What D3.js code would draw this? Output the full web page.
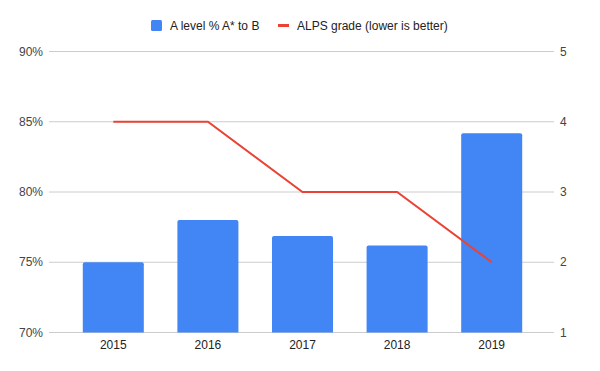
<!DOCTYPE html>
<html>
<head>
<meta charset="utf-8">
<script src="https://cdn.jsdelivr.net/npm/d3@7"></script>
<style>
  body { margin: 0; background: #fff; }
  text { font-family: "Liberation Sans", Arial, sans-serif; }
</style>
</head>
<body>
<svg id="chart" width="600" height="371"></svg>
<script>
var years = ['2015', '2016', '2017', '2018', '2019'];
var aLevel = [75.0, 78.0, 76.87, 76.2, 84.18];   // % A* to B
var alps = [4, 4, 3, 3, 2];                      // ALPS grade
var leftTicks = [70, 75, 80, 85, 90];
var rightTicks = [1, 2, 3, 4, 5];

var colorBar = '#4285f4';
var colorLine = '#ea4335';
var colorGrid = '#cccccc';
var colorText = '#444';

var w = 600, h = 371;
var svg = d3.select('#chart');

var x = d3.scaleBand()
  .domain(years)
  .range([66, 539])
  .paddingInner(0.355)
  .paddingOuter(0.1775);

var yLeft = d3.scaleLinear().domain([70, 90]).range([332.5, 51.5]);
var yRight = d3.scaleLinear().domain([1, 5]).range([332.5, 51.5]);

// gridlines
svg.append('g')
  .selectAll('line')
  .data(leftTicks)
  .join('line')
  .attr('x1', 49).attr('x2', 554)
  .attr('y1', d => yLeft(d)).attr('y2', d => yLeft(d))
  .attr('stroke', colorGrid)
  .attr('stroke-width', 1);

// left axis labels
svg.append('g')
  .selectAll('text')
  .data(leftTicks)
  .join('text')
  .attr('x', 43)
  .attr('y', d => yLeft(d) + 4)
  .attr('text-anchor', 'end')
  .attr('font-size', 12)
  .attr('fill', colorText)
  .text(d => d + '%');

// right axis labels
svg.append('g')
  .selectAll('text')
  .data(rightTicks)
  .join('text')
  .attr('x', 560)
  .attr('y', d => yRight(d) + 4)
  .attr('text-anchor', 'start')
  .attr('font-size', 12)
  .attr('fill', colorText)
  .text(d => d);

// bars with slightly rounded tops
var r = 2;
svg.append('g')
  .selectAll('path')
  .data(years.map((y, i) => ({year: y, v: aLevel[i]})))
  .join('path')
  .attr('fill', colorBar)
  .attr('d', d => {
    var x0 = x(d.year), x1 = x0 + x.bandwidth();
    var y0 = yLeft(d.v), yb = yLeft(70);
    return 'M' + x0 + ',' + yb +
      'V' + (y0 + r) +
      'Q' + x0 + ',' + y0 + ' ' + (x0 + r) + ',' + y0 +
      'H' + (x1 - r) +
      'Q' + x1 + ',' + y0 + ' ' + x1 + ',' + (y0 + r) +
      'V' + yb + 'Z';
  });

// x labels
svg.append('g')
  .selectAll('text')
  .data(years)
  .join('text')
  .attr('x', d => x(d) + x.bandwidth() / 2)
  .attr('y', 349)
  .attr('text-anchor', 'middle')
  .attr('font-size', 12)
  .attr('fill', '#222')
  .text(d => d);

// ALPS line
var line = d3.line()
  .x((d, i) => x(years[i]) + x.bandwidth() / 2)
  .y(d => yRight(d));

svg.append('path')
  .datum(alps)
  .attr('d', line)
  .attr('fill', 'none')
  .attr('stroke', colorLine)
  .attr('stroke-width', 2);

// legend
var lg = svg.append('g');
lg.append('rect')
  .attr('x', 151).attr('y', 20).attr('width', 11).attr('height', 11)
  .attr('rx', 1.5)
  .attr('fill', colorBar);
lg.append('text')
  .attr('x', 170).attr('y', 30)
  .attr('font-size', 12).attr('fill', '#222')
  .text('A level % A* to B');
lg.append('line')
  .attr('x1', 278).attr('x2', 289).attr('y1', 25.5).attr('y2', 25.5)
  .attr('stroke', colorLine).attr('stroke-width', 3);
lg.append('text')
  .attr('x', 297).attr('y', 30)
  .attr('font-size', 12).attr('fill', '#222')
  .text('ALPS grade (lower is better)');
</script>
</body>
</html>
